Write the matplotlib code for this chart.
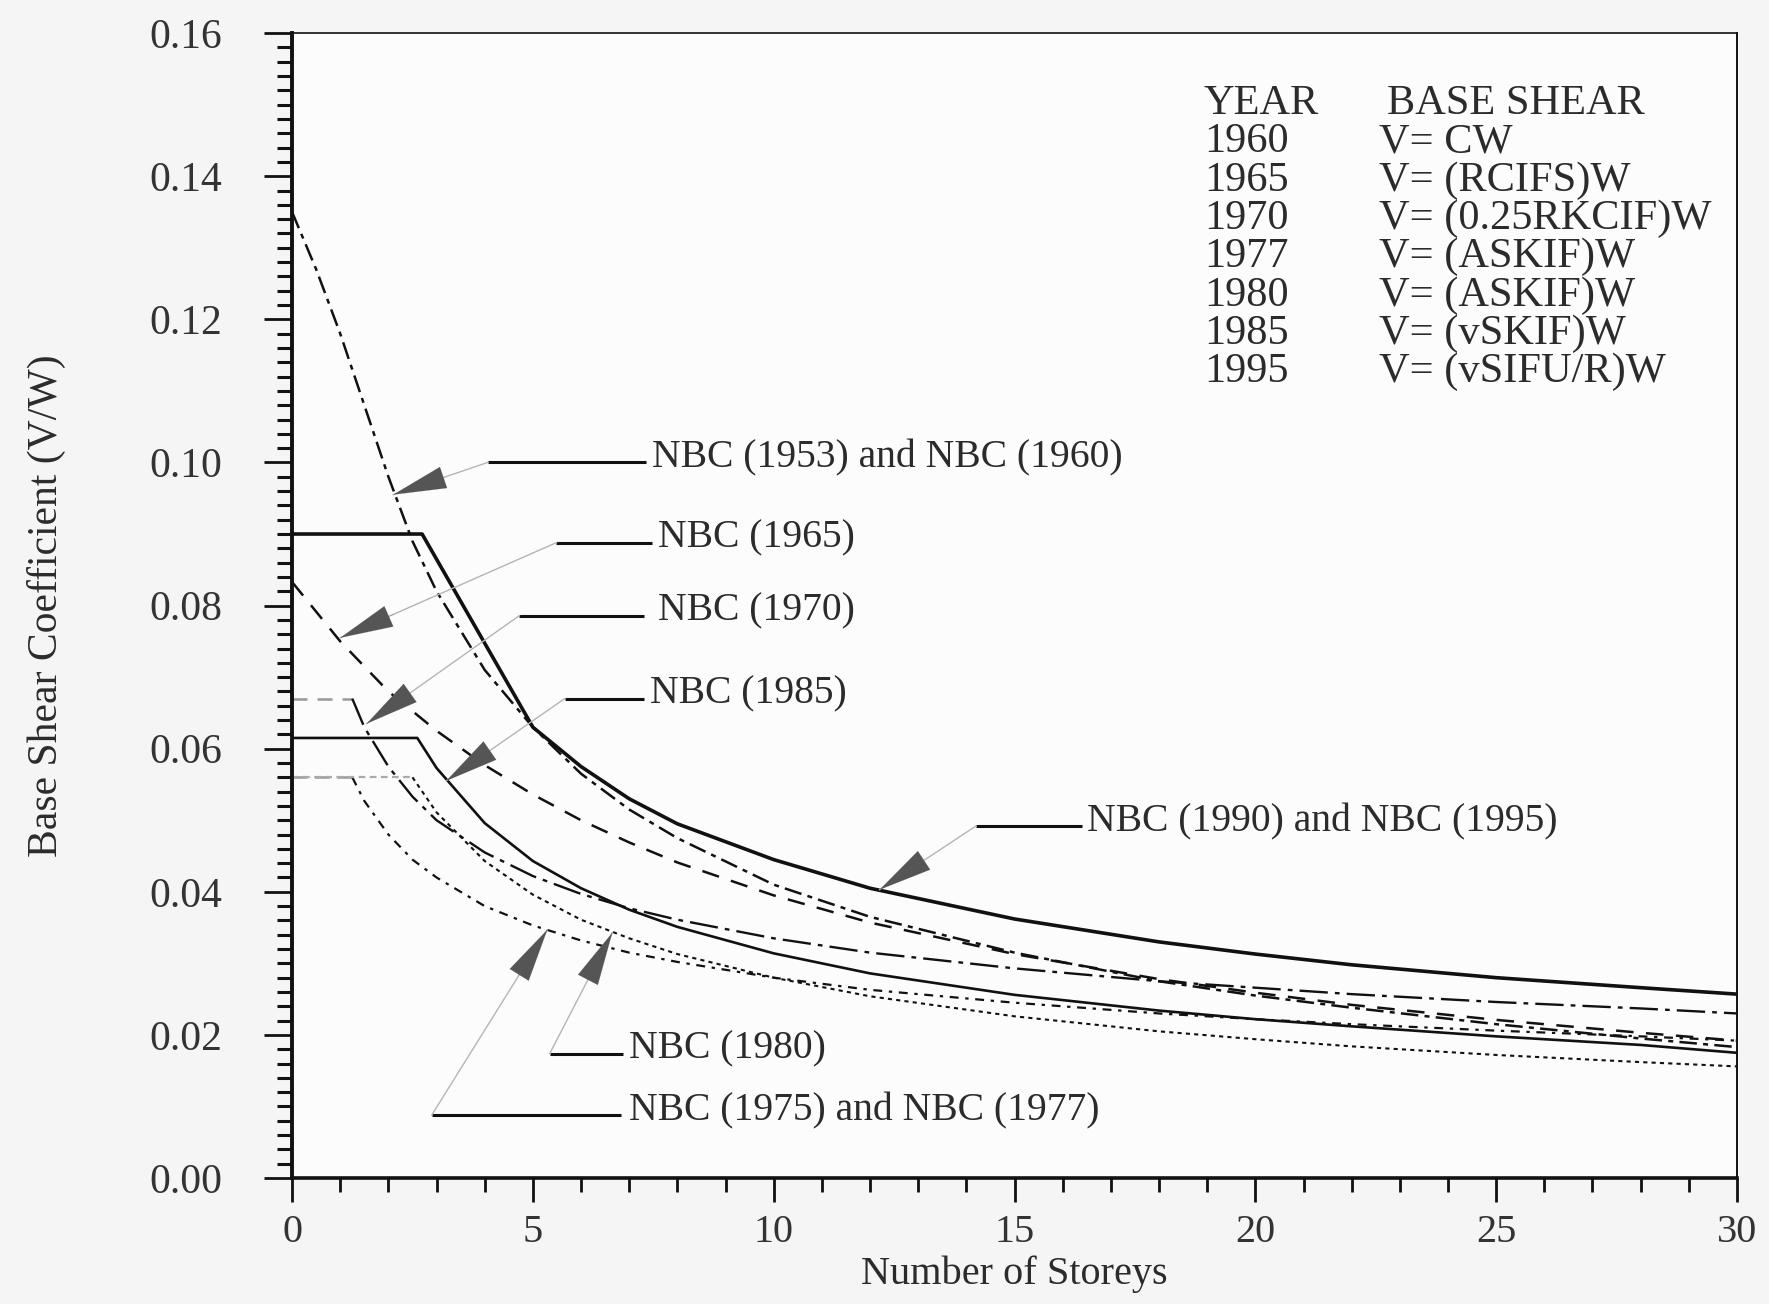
import matplotlib
matplotlib.use('Agg')
import matplotlib.pyplot as plt
from matplotlib.ticker import MultipleLocator, FormatStrFormatter

plt.rcParams['font.family'] = ['Liberation Serif', 'DejaVu Serif']

# ---------------- data ----------------
x_1990 = [0, 2.7, 5, 6, 7, 8, 10, 12, 15, 18, 20, 22, 25, 28, 30]
v_1990 = [0.090, 0.090, 0.063, 0.0575, 0.053, 0.0495, 0.0445, 0.0405, 0.0362,
          0.033, 0.0313, 0.0298, 0.028, 0.0266, 0.0257]

x_1960 = [0, 0.5, 1, 1.5, 2, 2.5, 3, 4, 5, 6, 7, 8, 10, 12, 15, 18, 20, 22, 25, 28, 30]
v_1960 = [0.135, 0.127, 0.118, 0.108, 0.098, 0.089, 0.082, 0.071, 0.063, 0.0565,
          0.0515, 0.0475, 0.041, 0.0365, 0.0315, 0.0275, 0.0255, 0.0238, 0.0215,
          0.0195, 0.0183]

x_1965 = [0, 1, 2, 3, 4, 5, 6, 7, 8, 10, 12, 15, 18, 20, 22, 25, 28, 30]
v_1965 = [0.0833, 0.075, 0.068, 0.0625, 0.0577, 0.0536, 0.050, 0.0469, 0.0441,
          0.0395, 0.0357, 0.0313, 0.0278, 0.0259, 0.0242, 0.0221, 0.0203, 0.0192]

x_1970 = [0, 1.25, 1.5, 2, 2.5, 3, 4, 5, 6, 7, 8, 10, 12, 15, 18, 20, 22, 25, 28, 30]
v_1970 = [0.067, 0.067, 0.063, 0.0575, 0.0533, 0.050, 0.0455, 0.0422, 0.0397,
          0.0377, 0.0361, 0.0335, 0.0315, 0.0293, 0.0275, 0.0266, 0.0257, 0.0246,
          0.0237, 0.0230]

x_1977 = [0, 1.25, 1.5, 2, 2.5, 3, 4, 5, 6, 7, 8, 10, 12, 15, 18, 20, 22, 25, 28, 30]
v_1977 = [0.056, 0.056, 0.0527, 0.048, 0.0445, 0.042, 0.038, 0.0353, 0.0332,
          0.0315, 0.0302, 0.028, 0.0263, 0.0245, 0.023, 0.0222, 0.0215, 0.0206,
          0.0198, 0.0192]

x_1980 = [0, 2.5, 3, 4, 5, 6, 7, 8, 10, 12, 15, 18, 20, 22, 25, 28, 30]
v_1980 = [0.056, 0.056, 0.0511, 0.0443, 0.0396, 0.0361, 0.0335, 0.0313, 0.028,
          0.0254, 0.0226, 0.0205, 0.0194, 0.0184, 0.0172, 0.0162, 0.0156]

x_1985 = [0, 2.6, 3, 4, 5, 6, 7, 8, 10, 12, 15, 18, 20, 22, 25, 28, 30]
v_1985 = [0.0615, 0.0615, 0.0573, 0.0496, 0.0443, 0.0405, 0.0375, 0.0351, 0.0314,
          0.0286, 0.0256, 0.0234, 0.0222, 0.0212, 0.0198, 0.0186, 0.0175]

table_years = ['YEAR', '1960', '1965', '1970', '1977', '1980', '1985', '1995']
table_formulas = ['BASE SHEAR', 'V= CW', 'V= (RCIFS)W', 'V= (0.25RKCIF)W',
                  'V= (ASKIF)W', 'V= (ASKIF)W', 'V= (vSKIF)W', 'V= (vSIFU/R)W']

labels = ['NBC (1953) and NBC (1960)', 'NBC (1965)', 'NBC (1970)', 'NBC (1985)',
          'NBC (1990) and NBC (1995)', 'NBC (1980)', 'NBC (1975) and NBC (1977)']
label_text_xy = [(7.48, 0.1006), (7.6, 0.0894), (7.6, 0.0792), (7.44, 0.0676),
                 (16.5, 0.0498), (7.0, 0.0180), (7.0, 0.0094)]
leader_x = [(4.06, 7.34), (5.49, 7.48), (4.72, 7.30), (5.66, 7.30),
            (14.2, 16.4), (5.35, 6.87), (2.90, 6.83)]
arrow_tip = [(2.1, 0.0955), (1.0, 0.0755), (1.55, 0.0635), (3.2, 0.0555),
             (12.2, 0.0403), (6.65, 0.0343), (5.3, 0.0347)]

# ---------------- figure ----------------
fig = plt.figure(figsize=(17.69, 13.04), dpi=100, facecolor='#f5f5f5')
ax = fig.add_axes([0.1651, 0.0966, 0.8168, 0.878])
ax.set_facecolor('#fcfcfc')

ink = '#111111'
ax.plot(x_1990, v_1990, color=ink, lw=2.6, solid_capstyle='butt')
ax.plot(x_1960, v_1960, color=ink, lw=1.8, dashes=(7, 2.5, 2, 2.5))
ax.plot(x_1965, v_1965, color=ink, lw=1.8, dashes=(7, 5))
ax.plot(x_1970[:2], v_1970[:2], color='#999999', lw=1.8, dashes=(6, 4))
ax.plot(x_1970[1:], v_1970[1:], color=ink, lw=1.7, dashes=(12, 3, 2, 3))
ax.plot(x_1977[:2], v_1977[:2], color='#999999', lw=1.8, dashes=(6, 3))
ax.plot(x_1977[1:], v_1977[1:], color=ink, lw=1.6, dashes=(4, 3, 1.5, 3))
ax.plot(x_1980[:2], v_1980[:2], color='#aaaaaa', lw=1.6, dashes=(3, 2))
ax.plot(x_1980[1:], v_1980[1:], color=ink, lw=1.5, dashes=(2, 2))
ax.plot(x_1985, v_1985, color=ink, lw=1.9)

# annotations
txt_color = '#2b2b2b'
for lab, (tx, ty), (lx0, lx1), (ax_, ay_) in zip(labels, label_text_xy, leader_x, arrow_tip):
    ly = ty - 0.0006
    ax.plot([lx0, lx1], [ly, ly], color='#111111', lw=2.2, solid_capstyle='butt')
    ax.plot([lx0, ax_], [ly, ay_], color='#b5b5b5', lw=1.0)
    dx = (lx0 - ax_)
    dy = (ly - ay_)
    ax.annotate('', xy=(ax_, ay_), xytext=(ax_ + 0.25 * dx, ay_ + 0.25 * dy),
                arrowprops=dict(arrowstyle='-|>,head_length=1.9,head_width=0.4',
                                color='#555555', lw=0.1, mutation_scale=20,
                                shrinkA=0, shrinkB=0))
    ax.text(tx, ty, lab, fontsize=28.5, color=txt_color, va='center', ha='left')

# table
row_y0 = 0.1501
row_dy = 0.00535
for i, (yr, fm) in enumerate(zip(table_years, table_formulas)):
    yy = row_y0 - i * row_dy
    ax.text(18.93, yy, yr, fontsize=30.5, color=txt_color, va='center', ha='left')
    ax.text(22.73 if i == 0 else 22.56, yy, fm, fontsize=30.5, color=txt_color,
            va='center', ha='left')

# axes
ax.set_xlim(0, 30)
ax.set_ylim(0, 0.16)
ax.xaxis.set_major_locator(MultipleLocator(5))
ax.xaxis.set_minor_locator(MultipleLocator(1))
ax.yaxis.set_major_locator(MultipleLocator(0.02))
ax.yaxis.set_minor_locator(MultipleLocator(0.002))
ax.yaxis.set_major_formatter(FormatStrFormatter('%.2f'))

ax.tick_params(axis='y', which='major', direction='out', length=20, width=2.0,
               labelsize=30, pad=30, colors='#111111', labelcolor='#333333')
ax.tick_params(axis='y', which='minor', direction='out', length=11, width=2.2,
               colors='#111111')
ax.tick_params(axis='x', which='major', direction='out', length=17, width=2.0,
               labelsize=29, pad=9, colors='#111111', labelcolor='#333333')
ax.tick_params(axis='x', which='minor', direction='out', length=10, width=2.0,
               colors='#111111')

ax.spines['left'].set_linewidth(2.8)
ax.spines['bottom'].set_linewidth(2.6)
ax.spines['top'].set_linewidth(1.2)
ax.spines['right'].set_linewidth(1.4)
for s in ax.spines.values():
    s.set_color('#111111')

ax.set_xlabel('Number of Storeys', fontsize=29, color='#2b2b2b', labelpad=3)
ax.set_ylabel('Base Shear Coefficient (V/W)', fontsize=30, color='#2b2b2b', labelpad=60)

fig.savefig('out.png', dpi=100, facecolor=fig.get_facecolor())
